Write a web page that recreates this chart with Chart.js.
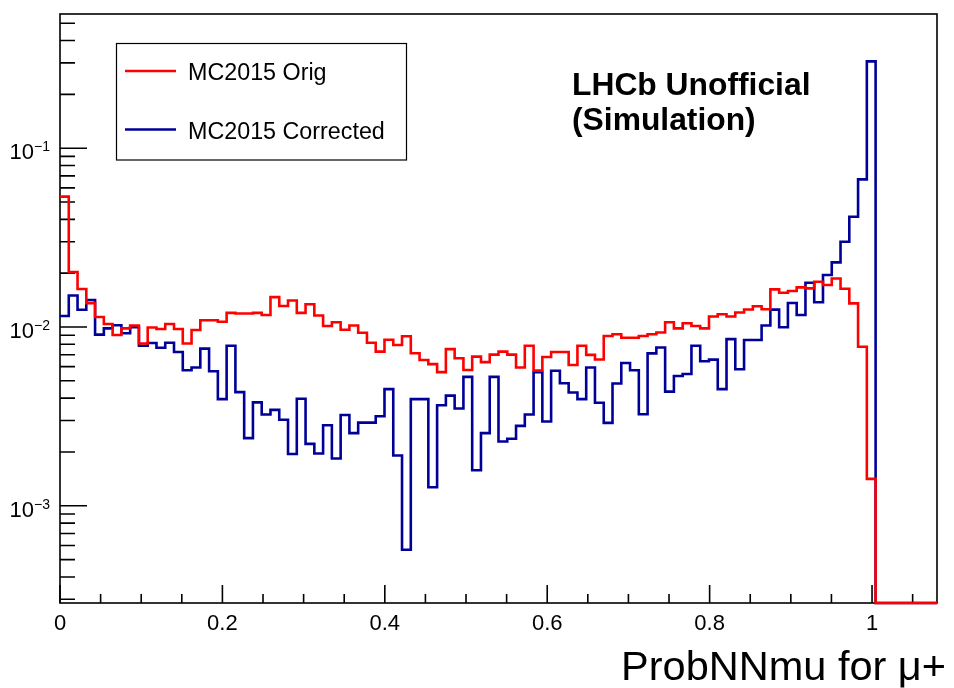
<!DOCTYPE html>
<html><head><meta charset="utf-8">
<script src="https://cdn.jsdelivr.net/npm/chart.js@4.4.1/dist/chart.umd.min.js"></script>
<style>html,body{margin:0;padding:0;background:#fff;}canvas{display:block;}</style>
</head><body>
<canvas id="c" width="954" height="688"></canvas>
<script>
// ---- histogram binning (categories) ----
const X_MIN = 0, X_MAX = 1.08, N_BINS = 100;
const binWidth = (X_MAX - X_MIN) / N_BINS;
const binLowEdges = Array.from({length: N_BINS}, (_, i) => X_MIN + i * binWidth);

// ---- series values (normalised entries per bin) ----
const mc2015Orig = [
0.0536, 0.0203, 0.0163, 0.0136, 0.01137, 0.0104, 0.00902, 0.00983, 0.0102, 0.00809,
0.00994, 0.00975, 0.0104, 0.00975, 0.00809, 0.00962, 0.0109, 0.0109, 0.0107, 0.0120,
0.0119, 0.0119, 0.0120, 0.01167, 0.0147, 0.0131, 0.01406, 0.0120, 0.0134, 0.01159,
0.01013, 0.01064, 0.00966, 0.0102, 0.00929, 0.00817, 0.00728, 0.00849, 0.00793, 0.00887,
0.00713, 0.00654, 0.00620, 0.00559, 0.00752, 0.00669, 0.00575, 0.00683, 0.00636, 0.00701,
0.00728, 0.00701, 0.00594, 0.00786, 0.00570, 0.00680, 0.00725, 0.00725, 0.00613, 0.00786,
0.00698, 0.00658, 0.00891, 0.00910, 0.00871, 0.00871, 0.00891, 0.00910, 0.00932, 0.01062,
0.00983, 0.01049, 0.01013, 0.00983, 0.01145, 0.01178, 0.01145, 0.01205, 0.01253, 0.01305,
0.01256, 0.01624, 0.01554, 0.01589, 0.01666, 0.01645, 0.01791, 0.01717, 0.01866, 0.01635,
0.01356, 0.00776, 0.001415, 0, 0, 0, 0, 0, 0, 0
];
const mc2015Corrected = [
0.01152, 0.0150, 0.01249, 0.01415, 0.00906, 0.00983, 0.01022, 0.00922, 0.00997, 0.00785,
0.00814, 0.00766, 0.00817, 0.00725, 0.00573, 0.00594, 0.00757, 0.00566, 0.00395, 0.00785,
0.00432, 0.00239, 0.00379, 0.00324, 0.00344, 0.00303, 0.00195, 0.00397, 0.00222, 0.00196,
0.00282, 0.00184, 0.00322, 0.00255, 0.00292, 0.00292, 0.00317, 0.00449, 0.00191, 0.000568,
0.00395, 0.00395, 0.00127, 0.00365, 0.00413, 0.00350, 0.00526, 0.00158, 0.00255, 0.00526,
0.00229, 0.00237, 0.00280, 0.00324, 0.00559, 0.00296, 0.00569, 0.00485, 0.00430, 0.00395,
0.00594, 0.00377, 0.00291, 0.00483, 0.00629, 0.00573, 0.00325, 0.00712, 0.00768, 0.00435,
0.00532, 0.00546, 0.00785, 0.00643, 0.00657, 0.00449, 0.00855, 0.00580, 0.00846, 0.00846,
0.0102, 0.01251, 0.00997, 0.01362, 0.01167, 0.01768, 0.01375, 0.01952, 0.02298, 0.02995,
0.04134, 0.0669, 0.306, 0, 0, 0, 0, 0, 0, 0
];
const seriesNames = ['MC2015 Orig', 'MC2015 Corrected'];

// ---- axis ticks / labels ----
const xTickValues = [0, 0.2, 0.4, 0.6, 0.8, 1];
const xTickLabels = ['0', '0.2', '0.4', '0.6', '0.8', '1'];
const yTickExponents = [-3, -2, -1];
const xTitle = 'ProbNNmu for \u03BC+';
const tagLines = ['LHCb Unofficial', '(Simulation)'];
const Y_MIN = 2.86e-4, Y_MAX = 0.563;

const FONT = '"Liberation Sans", Arial, Helvetica, sans-serif';
const RED = '#ff0000', BLUE = '#000099';

function toPoints(values) {
  const pts = values.map((v, i) => ({x: binLowEdges[i], y: Math.max(v, Y_MIN)}));
  pts.push({x: X_MAX, y: Math.max(values[values.length - 1], Y_MIN)});
  return pts;
}

const rootStyle = {
  id: 'rootStyle',
  beforeDatasetsDraw(chart) {
    const {ctx, chartArea: a, scales: {x, y}} = chart;
    ctx.save();
    ctx.strokeStyle = '#000';
    ctx.lineWidth = 1.6;
    ctx.strokeRect(a.left, a.top, a.right - a.left, a.bottom - a.top);
    ctx.beginPath();
    for (let k = 0; k <= 30; k++) {
      const v = k * 0.05;
      if (v > X_MAX + 1e-9) break;
      const px = x.getPixelForValue(v);
      const len = (k % 4 === 0) ? 18 : 9;
      ctx.moveTo(px, a.bottom); ctx.lineTo(px, a.bottom - len);
    }
    for (let e = -4; e <= 0; e++) {
      for (let m = 1; m <= 9; m++) {
        const v = m * Math.pow(10, e);
        if (v < Y_MIN || v > Y_MAX) continue;
        const py = y.getPixelForValue(v);
        const len = (m === 1) ? 27 : 15;
        ctx.moveTo(a.left, py); ctx.lineTo(a.left + len, py);
      }
    }
    ctx.stroke();
    ctx.restore();
  },
  afterDraw(chart) {
    const {ctx, chartArea: a, scales: {x, y}} = chart;
    ctx.save();
    ctx.fillStyle = '#000';
    // x tick labels
    ctx.font = '22px ' + FONT;
    ctx.textAlign = 'center';
    ctx.textBaseline = 'alphabetic';
    xTickValues.forEach((v, i) => ctx.fillText(xTickLabels[i], x.getPixelForValue(v), 630));
    // y tick labels 10^e
    yTickExponents.forEach(e => {
      const py = y.getPixelForValue(Math.pow(10, e));
      ctx.font = '22px ' + FONT;
      ctx.textAlign = 'right';
      ctx.fillText('10', 34, py + 11);
      ctx.font = '14px ' + FONT;
      ctx.textAlign = 'left';
      ctx.fillText('\u2212' + Math.abs(e), 34, py + 3);
    });
    // x title
    ctx.font = '41.5px ' + FONT;
    ctx.textAlign = 'right';
    ctx.fillText(xTitle, 946, 680);
    // legend
    ctx.fillStyle = '#fff';
    ctx.fillRect(116.5, 43.5, 290, 116.5);
    ctx.strokeStyle = '#000';
    ctx.lineWidth = 1.2;
    ctx.strokeRect(116.5, 43.5, 290, 116.5);
    const entries = [{name: seriesNames[0], color: RED, ly: 71}, {name: seriesNames[1], color: BLUE, ly: 129.5}];
    entries.forEach(en => {
      ctx.strokeStyle = en.color;
      ctx.lineWidth = 2.6;
      ctx.beginPath(); ctx.moveTo(125, en.ly); ctx.lineTo(176, en.ly); ctx.stroke();
      ctx.fillStyle = '#000';
      ctx.font = '23.3px ' + FONT;
      ctx.textAlign = 'left';
      ctx.fillText(en.name, 188, en.ly + 9);
    });
    // LHCb tag
    ctx.font = 'bold 31.8px ' + FONT;
    ctx.textAlign = 'left';
    ctx.fillText(tagLines[0], 572, 95);
    ctx.fillText(tagLines[1], 572, 130);
    ctx.restore();
  }
};

new Chart(document.getElementById('c').getContext('2d'), {
  type: 'line',
  data: {
    datasets: [
      {label: seriesNames[0], data: toPoints(mc2015Orig), borderColor: RED, borderWidth: 2.6,
       stepped: 'before', pointRadius: 0, fill: false, clip: false, tension: 0},
      {label: seriesNames[1], data: toPoints(mc2015Corrected), borderColor: BLUE, borderWidth: 2.6,
       stepped: 'before', pointRadius: 0, fill: false, clip: false, tension: 0}
    ]
  },
  options: {
    responsive: false, animation: false, devicePixelRatio: 1,
    layout: {padding: {left: 60, top: 14, right: 17, bottom: 85}},
    plugins: {legend: {display: false}, tooltip: {enabled: false}},
    scales: {
      x: {type: 'linear', min: X_MIN, max: X_MAX, display: false},
      y: {type: 'logarithmic', min: Y_MIN, max: Y_MAX, display: false}
    }
  },
  plugins: [rootStyle]
});
</script>
</body></html>
